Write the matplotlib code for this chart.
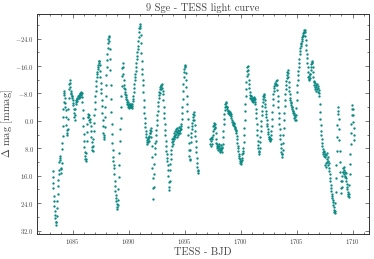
import matplotlib
matplotlib.use("Agg")
import matplotlib.pyplot as plt
from matplotlib.ticker import MultipleLocator, FuncFormatter

# light curve: (BJD - 2457000 style day, delta mag in mmag)
seg_a = [
    (1683.20, 14.5), (1683.22, 16.5), (1683.24, 18.0), (1683.26, 19.5), (1683.29, 21.8),
    (1683.32, 23.5), (1683.35, 24.7), (1683.38, 26.2), (1683.41, 27.5), (1683.44, 28.3),
    (1683.47, 29.4), (1683.50, 30.3), (1683.53, 29.6), (1683.56, 27.8), (1683.59, 25.5),
    (1683.62, 23.3), (1683.65, 21.2), (1683.68, 19.0), (1683.71, 17.2), (1683.74, 15.6),
    (1683.77, 14.2), (1683.80, 12.0), (1683.83, 10.8), (1683.86, 10.2), (1683.89, 11.3),
    (1683.92, 13.6), (1683.95, 15.2), (1683.98, 14.0), (1684.01, 12.2), (1684.04, 8.2),
    (1684.07, 6.4), (1684.10, 4.3), (1684.13, 1.5), (1684.16, -1.2), (1684.18, -3.4),
    (1684.20, -5.6), (1684.22, -7.5), (1684.24, -8.6), (1684.26, -8.2), (1684.29, -6.8),
    (1684.32, -5.2), (1684.35, -4.0), (1684.38, -3.2), (1684.41, -1.0), (1684.44, 1.2),
    (1684.47, 2.6), (1684.50, 3.6), (1684.53, 4.2), (1684.56, 2.5), (1684.59, -0.5),
    (1684.62, -3.6), (1684.65, -6.8), (1684.68, -9.2), (1684.71, -10.8), (1684.74, -11.8),
    (1684.77, -11.2), (1684.80, -9.8), (1684.83, -8.6), (1684.86, -7.8), (1684.89, -8.2),
    (1684.92, -7.2), (1684.95, -6.6), (1684.98, -7.4), (1685.01, -6.0), (1685.04, -5.2),
    (1685.07, -4.5), (1685.10, -3.6), (1685.13, -2.4), (1685.16, -1.2), (1685.19, -0.4),
    (1685.22, -1.8), (1685.25, -3.4), (1685.28, -5.0), (1685.31, -6.2), (1685.34, -5.6),
    (1685.37, -6.8), (1685.40, -5.8), (1685.43, -6.4), (1685.46, -7.4), (1685.49, -6.8),
    (1685.52, -7.6), (1685.55, -6.6), (1685.58, -7.2), (1685.61, -7.8), (1685.64, -7.0),
    (1685.67, -8.2), (1685.70, -7.6), (1685.73, -8.4), (1685.76, -7.8), (1685.79, -8.2),
    (1685.82, -7.0), (1685.85, -5.4), (1685.88, -3.2), (1685.91, -0.8), (1685.94, 1.6),
    (1685.97, 3.8), (1686.00, 5.8), (1686.03, 7.6), (1686.06, 9.0), (1686.09, 10.2),
    (1686.12, 11.0), (1686.15, 11.6), (1686.18, 11.2), (1686.21, 9.4), (1686.24, 6.0),
    (1686.27, 3.2), (1686.30, 0.8), (1686.33, -1.0), (1686.36, -2.0), (1686.40, -1.2),
    (1686.44, -0.2), (1686.48, -1.6), (1686.52, -0.6), (1686.56, 0.4), (1686.60, 1.4),
    (1686.63, 3.0), (1686.66, 4.8), (1686.69, 6.2), (1686.72, 7.6), (1686.75, 8.6),
    (1686.78, 8.8), (1686.81, 7.4), (1686.84, 5.2), (1686.87, 2.8), (1686.90, 0.6),
    (1686.93, -1.6), (1686.96, -3.6), (1686.99, -5.4), (1687.02, -7.2), (1687.05, -8.8),
    (1687.08, -10.2), (1687.11, -11.6), (1687.14, -12.8), (1687.17, -13.6), (1687.20, -14.4),
    (1687.23, -15.2), (1687.26, -15.8), (1687.29, -16.4), (1687.32, -17.0), (1687.35, -17.4),
    (1687.38, -17.6), (1687.41, -16.4), (1687.44, -14.6), (1687.47, -12.8), (1687.50, -11.0),
    (1687.53, -9.4), (1687.56, -8.0), (1687.59, -6.2), (1687.62, -4.4), (1687.65, -2.4),
    (1687.68, -0.4), (1687.71, 1.6), (1687.74, 3.4), (1687.77, 4.6), (1687.80, 5.2),
    (1687.83, 4.2), (1687.86, 1.8), (1687.89, -1.0), (1687.92, -4.2), (1687.95, -7.4),
    (1687.98, -10.6), (1688.01, -13.4), (1688.04, -15.8), (1688.07, -17.8), (1688.10, -19.6),
    (1688.13, -21.2), (1688.16, -22.6), (1688.19, -23.8), (1688.22, -24.6), (1688.25, -24.9),
    (1688.28, -23.4), (1688.31, -21.0), (1688.34, -18.0), (1688.37, -14.8), (1688.40, -10.4),
]

seg_b = [
    (1688.43, -6.4), (1688.46, -2.6), (1688.49, 0.8), (1688.52, 3.8), (1688.55, 6.4),
    (1688.58, 8.6), (1688.61, 10.4), (1688.64, 11.8), (1688.67, 12.8), (1688.70, 13.8),
    (1688.73, 15.6), (1688.76, 17.4), (1688.79, 19.0), (1688.82, 20.4), (1688.85, 21.6),
    (1688.88, 22.6), (1688.91, 23.4), (1688.94, 24.2), (1688.97, 25.0), (1689.00, 25.7),
    (1689.03, 24.6), (1689.06, 23.2), (1689.09, 20.0), (1689.12, 16.4), (1689.15, 12.8),
    (1689.18, 9.4), (1689.21, 5.8), (1689.24, 2.4), (1689.27, -0.8), (1689.30, -4.0),
    (1689.33, -7.2), (1689.36, -10.2), (1689.39, -13.0), (1689.42, -15.4), (1689.45, -16.8),
    (1689.48, -15.6), (1689.51, -13.6), (1689.54, -11.8), (1689.57, -10.4), (1689.60, -9.6),
    (1689.63, -8.4), (1689.66, -9.2), (1689.69, -7.8), (1689.72, -7.0), (1689.75, -7.6),
    (1689.78, -6.4), (1689.81, -5.6), (1689.84, -6.2), (1689.87, -5.0), (1689.90, -4.6),
    (1689.93, -5.4), (1689.96, -4.2), (1689.99, -5.0), (1690.02, -4.4), (1690.05, -3.8),
    (1690.08, -4.6), (1690.11, -4.0), (1690.14, -4.8), (1690.17, -4.2), (1690.20, -5.0),
    (1690.23, -4.4), (1690.26, -3.8), (1690.29, -4.4), (1690.32, -5.0), (1690.35, -5.8),
    (1690.38, -6.4), (1690.41, -7.2), (1690.44, -8.4), (1690.47, -9.6), (1690.50, -10.8),
    (1690.53, -11.8), (1690.56, -12.8), (1690.59, -13.6), (1690.62, -14.6), (1690.65, -15.8),
    (1690.68, -16.8), (1690.71, -18.0), (1690.74, -19.0), (1690.77, -20.0), (1690.80, -21.0),
    (1690.83, -22.0), (1690.86, -23.2), (1690.89, -24.6), (1690.92, -25.8), (1690.95, -27.0),
    (1690.98, -27.8), (1691.01, -28.3), (1691.04, -27.2), (1691.07, -25.0), (1691.10, -22.6),
    (1691.13, -19.8), (1691.16, -17.4), (1691.19, -15.2), (1691.22, -13.6), (1691.25, -12.0),
    (1691.28, -10.4), (1691.31, -8.4), (1691.34, -6.2), (1691.37, -4.0), (1691.40, -2.2),
    (1691.43, -0.8), (1691.46, 0.6), (1691.49, 1.8), (1691.52, 2.8), (1691.55, 3.8),
    (1691.58, 4.8), (1691.61, 5.6), (1691.64, 6.2), (1691.67, 6.6), (1691.70, 5.4),
    (1691.73, 6.2), (1691.76, 5.0), (1691.79, 5.8), (1691.82, 4.4), (1691.85, 4.8),
    (1691.88, 3.6), (1691.91, 2.6), (1691.94, 3.4), (1691.97, 2.0), (1692.00, 3.0),
    (1692.03, 4.6), (1692.06, 7.4), (1692.09, 10.6), (1692.12, 13.8), (1692.15, 16.8),
    (1692.18, 19.6), (1692.21, 22.8), (1692.24, 19.4), (1692.27, 15.4), (1692.30, 12.6),
    (1692.33, 9.8), (1692.36, 8.0), (1692.39, 6.4), (1692.42, 5.8), (1692.45, 4.2),
    (1692.48, 2.6), (1692.51, 1.2), (1692.54, -0.2), (1692.57, -1.6), (1692.60, -3.0),
    (1692.63, -4.4), (1692.66, -5.6), (1692.69, -6.8), (1692.72, -7.6), (1692.75, -8.4),
    (1692.78, -9.2), (1692.81, -8.0), (1692.84, -9.8), (1692.87, -10.3), (1692.90, -9.2),
    (1692.93, -10.6), (1692.96, -10.8), (1692.99, -9.6), (1693.02, -8.6),
]

seg_c = [
    (1693.05, -7.8), (1693.08, -6.0), (1693.11, -4.2), (1693.14, -2.4), (1693.17, -0.8),
    (1693.20, 0.8), (1693.23, 2.6), (1693.26, 4.2), (1693.29, 5.8), (1693.32, 7.4),
    (1693.35, 8.8), (1693.38, 9.8), (1693.41, 10.8), (1693.44, 11.8), (1693.47, 12.8),
    (1693.50, 14.2), (1693.53, 16.0), (1693.56, 17.8), (1693.59, 19.4), (1693.62, 20.3),
    (1693.65, 17.6), (1693.68, 14.2), (1693.71, 12.6), (1693.74, 11.0), (1693.77, 9.6),
    (1693.80, 8.4), (1693.83, 7.2), (1693.86, 6.2), (1693.89, 5.4), (1693.92, 6.8),
    (1693.95, 5.0), (1693.98, 6.0), (1694.01, 4.4), (1694.04, 5.2), (1694.07, 3.6),
    (1694.10, 4.6), (1694.13, 3.0), (1694.16, 4.2), (1694.19, 2.4), (1694.22, 3.8),
    (1694.25, 2.8), (1694.28, 4.8), (1694.31, 3.2), (1694.34, 2.0), (1694.37, 3.6),
    (1694.40, 2.6), (1694.43, 4.0), (1694.46, 3.0), (1694.49, 1.8), (1694.52, 3.4),
    (1694.55, 2.2), (1694.58, 3.6), (1694.61, 2.6), (1694.64, 1.6), (1694.67, 2.4),
    (1694.70, 0.8), (1694.73, -0.6), (1694.76, -2.4), (1694.79, -4.2), (1694.82, -6.4),
    (1694.85, -8.6), (1694.88, -10.8), (1694.91, -12.8), (1694.94, -14.2), (1694.97, -15.2),
    (1695.00, -16.0), (1695.03, -16.4), (1695.06, -15.6), (1695.09, -14.0), (1695.12, -12.0),
    (1695.15, -9.8), (1695.18, -7.4), (1695.21, -5.0), (1695.24, -2.8), (1695.27, -0.6),
    (1695.30, 1.8), (1695.33, 4.2), (1695.36, 6.4), (1695.39, 8.4), (1695.42, 10.2),
    (1695.45, 11.4), (1695.48, 11.0), (1695.51, 8.6), (1695.54, 6.2), (1695.57, 4.6),
    (1695.60, 3.4), (1695.63, 2.4), (1695.66, 1.4), (1695.69, 0.6), (1695.72, -0.4),
    (1695.75, -1.2), (1695.78, -2.0), (1695.81, -2.5), (1695.84, -1.6), (1695.87, -0.4),
    (1695.90, 1.2), (1695.93, 2.8), (1695.96, 4.4), (1695.99, 6.0), (1696.02, 7.6),
    (1696.05, 9.2), (1696.08, 10.8), (1696.11, 12.2), (1696.14, 13.4), (1696.17, 14.4),
    (1696.20, 15.2), (1696.23, 14.6),
]

# second orbit, after the data gap
seg_d = [
    (1697.26, 5.4), (1697.29, 6.6), (1697.32, 5.0), (1697.35, 7.2), (1697.38, 6.0),
    (1697.41, 4.6), (1697.44, 6.8), (1697.47, 5.4), (1697.50, 4.0), (1697.53, 2.8),
    (1697.56, 1.6), (1697.59, 2.4), (1697.62, 1.2), (1697.65, 0.6), (1697.68, 2.0),
    (1697.71, 0.8), (1697.74, 1.8), (1697.77, 3.6), (1697.80, 5.2), (1697.83, 6.4),
    (1697.86, 7.4), (1697.89, 6.6), (1697.92, 8.0), (1697.95, 7.2), (1697.98, 8.4),
    (1698.01, 7.6), (1698.04, 6.8), (1698.07, 8.2), (1698.10, 7.4), (1698.13, 8.8),
    (1698.16, 7.8), (1698.19, 9.0), (1698.22, 8.2), (1698.25, 7.0), (1698.28, 8.6),
    (1698.31, 7.6), (1698.34, 9.2), (1698.37, 8.0), (1698.40, 6.6), (1698.43, 4.8),
    (1698.46, 2.8), (1698.49, 1.0), (1698.52, -0.6), (1698.55, -2.0), (1698.58, -3.2),
    (1698.61, -4.2), (1698.64, -4.8), (1698.67, -5.2), (1698.70, -4.4), (1698.73, -5.4),
    (1698.76, -4.0), (1698.79, -3.4), (1698.82, -4.2), (1698.85, -3.0), (1698.88, -2.4),
    (1698.91, -3.0), (1698.94, -2.2), (1698.97, -2.8), (1699.00, -2.0), (1699.03, -2.6),
    (1699.06, -1.8), (1699.09, -2.4), (1699.12, -1.4), (1699.15, -2.0), (1699.18, -0.8),
    (1699.21, 0.2), (1699.24, -0.4), (1699.27, 0.8), (1699.30, 0.2), (1699.33, 1.2),
    (1699.36, 0.6), (1699.39, 1.6), (1699.42, 1.0), (1699.45, 1.8), (1699.48, 2.4),
    (1699.51, 2.0), (1699.54, 3.0), (1699.57, 2.6), (1699.60, 3.6), (1699.63, 4.4),
    (1699.66, 5.4), (1699.69, 6.4), (1699.72, 7.2), (1699.75, 8.0), (1699.78, 8.8),
    (1699.81, 9.6), (1699.84, 10.2), (1699.87, 10.8), (1699.90, 11.2), (1699.93, 11.8),
    (1699.96, 12.2), (1699.99, 11.6), (1700.02, 12.6), (1700.05, 12.0), (1700.08, 10.8),
    (1700.11, 11.4), (1700.14, 9.6), (1700.17, 8.8), (1700.20, 9.4), (1700.23, 7.8),
    (1700.26, 6.2), (1700.29, 4.2), (1700.32, 2.0), (1700.35, -0.4), (1700.38, -2.8),
    (1700.41, -5.0), (1700.44, -7.2), (1700.47, -9.4), (1700.50, -11.4), (1700.53, -13.2),
    (1700.56, -14.6), (1700.59, -15.6), (1700.62, -15.9), (1700.65, -15.0), (1700.68, -13.6),
    (1700.71, -12.0), (1700.74, -10.8), (1700.77, -9.6), (1700.80, -8.4), (1700.83, -7.6),
    (1700.86, -6.8), (1700.89, -7.4), (1700.92, -6.4), (1700.95, -7.2), (1700.98, -6.0),
    (1701.01, -6.8), (1701.04, -5.8), (1701.07, -6.6), (1701.10, -5.6), (1701.13, -6.2),
    (1701.16, -7.0), (1701.19, -6.0), (1701.22, -6.6), (1701.25, -5.6), (1701.28, -6.4),
    (1701.31, -5.0), (1701.34, -3.6), (1701.37, -2.2), (1701.40, -0.8), (1701.43, 0.8),
    (1701.46, 2.6), (1701.49, 4.2), (1701.52, 5.8), (1701.55, 7.0), (1701.58, 8.0),
    (1701.61, 8.8), (1701.64, 9.6), (1701.67, 9.0), (1701.70, 7.8), (1701.73, 6.2),
    (1701.76, 4.6), (1701.79, 3.0), (1701.82, 1.4), (1701.85, 0.0), (1701.88, -1.6),
    (1701.91, -3.0), (1701.94, -4.4), (1701.97, -5.6), (1702.00, -6.4), (1702.03, -7.2),
    (1702.06, -7.6), (1702.09, -7.9), (1702.12, -7.0), (1702.15, -6.0), (1702.18, -5.0),
    (1702.21, -4.0), (1702.24, -3.0), (1702.27, -2.0), (1702.30, -1.0), (1702.33, -0.2),
    (1702.36, 0.8), (1702.39, 1.6), (1702.42, 2.4), (1702.45, 3.2), (1702.48, 3.8),
    (1702.51, 4.6), (1702.54, 5.2), (1702.57, 4.6), (1702.60, 5.6), (1702.63, 5.0),
    (1702.66, 5.8), (1702.69, 5.2), (1702.72, 4.2), (1702.75, 3.0), (1702.78, 1.4),
]

seg_e = [
    (1702.81, -0.6), (1702.84, -2.6), (1702.87, -4.6), (1702.90, -6.4), (1702.93, -7.8),
    (1702.96, -8.8), (1702.99, -9.6), (1703.02, -10.2), (1703.05, -10.8), (1703.08, -11.2),
    (1703.11, -10.6), (1703.14, -11.6), (1703.17, -10.8), (1703.20, -11.8), (1703.23, -10.4),
    (1703.26, -9.0), (1703.29, -7.4), (1703.32, -5.8), (1703.35, -4.0), (1703.38, -2.4),
    (1703.41, -0.8), (1703.44, 0.8), (1703.47, 2.4), (1703.50, 4.0), (1703.53, 5.4),
    (1703.56, 6.8), (1703.59, 8.0), (1703.62, 9.0), (1703.65, 9.8), (1703.68, 10.6),
    (1703.71, 9.8), (1703.74, 8.4), (1703.77, 6.4), (1703.80, 4.2), (1703.83, 2.0),
    (1703.86, -0.2), (1703.89, -2.4), (1703.92, -4.4), (1703.95, -6.2), (1703.98, -7.8),
    (1704.01, -9.2), (1704.04, -10.4), (1704.07, -11.6), (1704.10, -12.6), (1704.13, -13.4),
    (1704.16, -14.2), (1704.19, -14.9), (1704.22, -14.0), (1704.25, -12.8), (1704.28, -11.4),
    (1704.31, -10.0), (1704.34, -8.8), (1704.37, -7.8), (1704.40, -6.8), (1704.43, -6.0),
    (1704.46, -5.2), (1704.49, -4.6), (1704.52, -5.4), (1704.55, -4.0), (1704.58, -3.4),
    (1704.61, -4.2), (1704.64, -2.8), (1704.67, -2.2), (1704.70, -3.0), (1704.73, -1.6),
    (1704.76, -2.4), (1704.79, -0.8), (1704.82, -1.8), (1704.85, -0.4), (1704.88, -1.2),
    (1704.91, -0.2), (1704.94, -1.6), (1704.97, -3.8), (1705.00, -6.2), (1705.03, -8.4),
    (1705.06, -10.4), (1705.09, -12.0), (1705.12, -13.4), (1705.15, -14.6), (1705.18, -15.8),
    (1705.21, -17.0), (1705.24, -18.2), (1705.27, -19.4), (1705.30, -20.4), (1705.33, -21.2),
    (1705.36, -21.8), (1705.39, -22.4), (1705.42, -22.8), (1705.45, -23.2), (1705.48, -23.8),
    (1705.51, -24.4), (1705.54, -24.8), (1705.57, -25.2), (1705.60, -25.6), (1705.63, -25.8),
    (1705.66, -26.0), (1705.69, -26.4), (1705.72, -26.6), (1705.75, -25.8), (1705.78, -24.8),
    (1705.81, -23.6), (1705.84, -22.2), (1705.87, -20.8), (1705.90, -19.6), (1705.93, -18.4),
    (1705.96, -17.0), (1705.99, -15.6), (1706.02, -14.2), (1706.05, -12.8), (1706.08, -12.0),
    (1706.11, -13.0), (1706.14, -12.2), (1706.17, -13.6), (1706.20, -12.6), (1706.23, -13.8),
    (1706.26, -14.8), (1706.29, -15.8), (1706.32, -16.6), (1706.35, -17.2), (1706.38, -17.6),
    (1706.41, -16.8), (1706.44, -15.6), (1706.47, -14.2), (1706.50, -12.8), (1706.53, -11.6),
    (1706.56, -10.6), (1706.59, -11.4), (1706.62, -10.0), (1706.65, -11.0), (1706.68, -9.4),
    (1706.71, -10.4), (1706.74, -8.8), (1706.77, -9.8), (1706.80, -10.8), (1706.83, -9.2),
    (1706.86, -10.2), (1706.89, -8.4), (1706.92, -9.6), (1706.95, -8.0), (1706.98, -9.0),
    (1707.01, -7.4), (1707.04, -5.0), (1707.07, -2.6), (1707.10, -0.6), (1707.13, 1.2),
    (1707.16, 2.8), (1707.19, 4.2), (1707.22, 5.4), (1707.25, 6.4), (1707.28, 7.4),
]

seg_f = [
    (1707.31, 8.2), (1707.34, 9.0), (1707.37, 9.6), (1707.40, 8.8), (1707.43, 10.2),
    (1707.46, 9.2), (1707.49, 10.6), (1707.52, 12.8), (1707.55, 9.6), (1707.58, 13.4),
    (1707.61, 10.0), (1707.64, 12.4), (1707.67, 9.4), (1707.70, 11.0), (1707.73, 12.0),
    (1707.76, 10.4), (1707.79, 11.6), (1707.82, 13.0), (1707.85, 12.2), (1707.88, 13.8),
    (1707.91, 14.6), (1707.94, 15.6), (1707.97, 16.6), (1708.00, 17.6), (1708.03, 18.6),
    (1708.06, 19.6), (1708.09, 20.4), (1708.12, 21.2), (1708.15, 21.8), (1708.18, 22.4),
    (1708.21, 23.0), (1708.24, 23.6), (1708.27, 24.4), (1708.30, 25.2), (1708.33, 26.0),
    (1708.36, 26.6), (1708.39, 27.0), (1708.42, 26.2), (1708.45, 24.0), (1708.48, 20.6),
    (1708.51, 16.8), (1708.54, 12.8), (1708.57, 8.8), (1708.60, 4.8), (1708.63, 1.2),
    (1708.66, -2.0), (1708.69, -4.2), (1708.72, -3.0), (1708.75, -0.6), (1708.78, 2.4),
    (1708.81, 5.6), (1708.84, 8.8), (1708.87, 12.0), (1708.90, 15.0), (1708.93, 17.6),
    (1708.96, 19.6), (1708.99, 21.0), (1709.02, 19.2), (1709.05, 17.6), (1709.08, 16.2),
    (1709.11, 15.0), (1709.14, 13.8), (1709.17, 14.8), (1709.20, 13.4), (1709.23, 15.6),
    (1709.26, 14.4), (1709.29, 16.0), (1709.32, 15.0), (1709.35, 16.4), (1709.38, 15.2),
    (1709.41, 16.8), (1709.44, 17.6), (1709.47, 18.4), (1709.50, 19.2), (1709.53, 20.0),
    (1709.56, 20.8), (1709.59, 21.4), (1709.62, 22.0), (1709.65, 22.3), (1709.68, 21.4),
    (1709.71, 18.6), (1709.74, 15.6), (1709.77, 12.6), (1709.80, 9.6), (1709.83, 6.6),
    (1709.86, 3.6), (1709.89, 0.8), (1709.92, -1.8), (1709.95, -3.6), (1709.98, -4.7),
    (1710.01, -3.6), (1710.04, -1.8), (1710.07, 0.2), (1710.10, 2.2), (1710.13, 4.0),
    (1710.16, 5.6),
]

y_ticks = [-24, -16, -8, 0, 8, 16, 24, 32]
x_ticks = [1685, 1690, 1695, 1700, 1705, 1710]

plt.rcParams['font.family'] = 'cmr10'
plt.rcParams['mathtext.fontset'] = 'cm'
plt.rcParams['axes.unicode_minus'] = False

bjd = []
dmag = []
for seg in [seg_a, seg_b, seg_c, seg_d, seg_e, seg_f]:
    for t, m in seg:
        bjd.append(t)
        dmag.append(m)

fig = plt.figure(figsize=(3.74, 2.59), dpi=100)
ax = fig.add_axes([0.0997, 0.0965, 0.887, 0.8495])

ax.plot(bjd, dmag, 'o', color='#0b8a84', ms=1.7, mew=0)

ax.set_xlim(1681.84, 1711.46)
ax.set_ylim(33.0, -31.2)
ax.set_xticks(x_ticks)
ax.set_yticks(y_ticks)
ax.xaxis.set_minor_locator(MultipleLocator(1))
ax.yaxis.set_minor_locator(MultipleLocator(4))
ax.yaxis.set_major_formatter(FuncFormatter(lambda v, p: "$%.1f$" % v))
ax.xaxis.set_major_formatter(FuncFormatter(lambda v, p: "$%d$" % v))

ax.tick_params(which='both', direction='in', top=True, right=True,
               labelsize=4.8, colors='#444444', width=0.5, pad=2.5)
ax.tick_params(which='major', length=3)
ax.tick_params(which='minor', length=1.5)
for sp in ax.spines.values():
    sp.set_linewidth(0.7)
    sp.set_color('#333333')

ax.set_title("9 Sge - TESS light curve", fontsize=7.5, color='#444444', pad=2)
ax.set_xlabel("TESS - BJD", fontsize=7.5, color='#444444', labelpad=1)
ax.set_ylabel(r"$\Delta$ mag [mmag]", fontsize=7.5, color='#444444')
ax.yaxis.set_label_coords(-0.068, 0.5)

fig.savefig("out.png", dpi=100)
